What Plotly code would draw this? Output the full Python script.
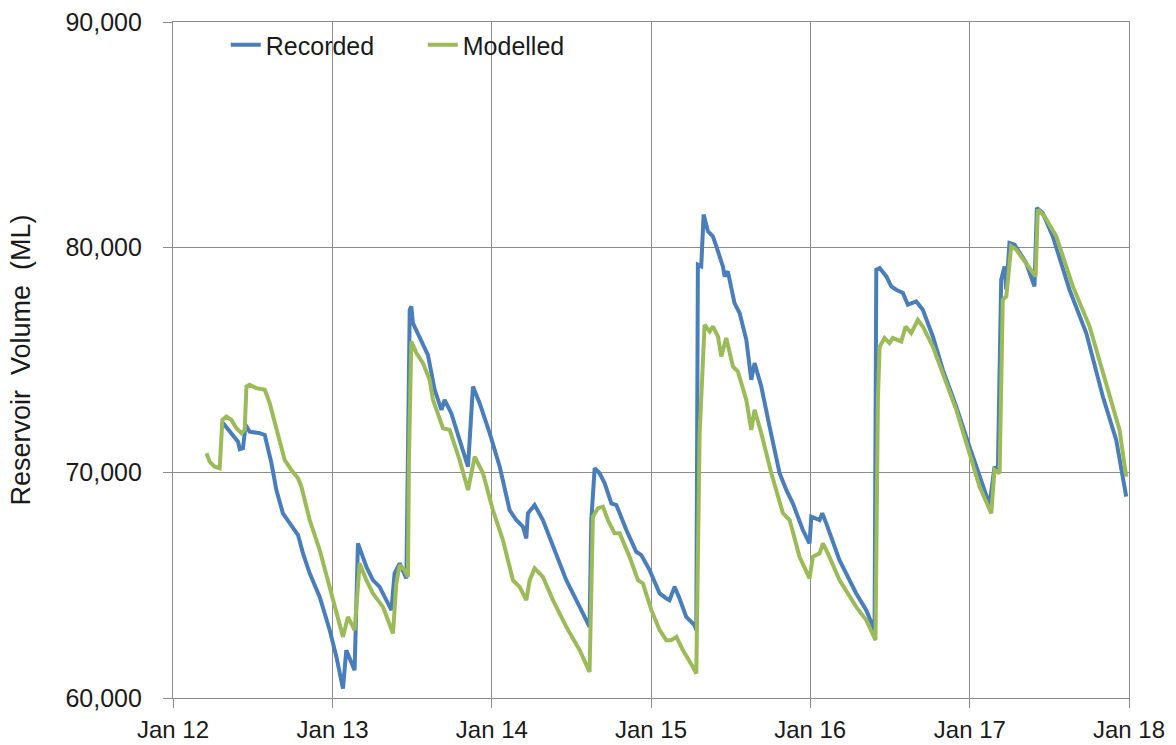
import pandas as pd
import plotly.graph_objects as go

# Recorded series: decimal-year positions and volumes (ML)
recorded_year = [
    2012.314, 2012.377, 2012.408, 2012.419, 2012.439, 2012.456, 2012.481, 2012.544, 2012.576,
    2012.618, 2012.649, 2012.690, 2012.732, 2012.785, 2012.816, 2012.858, 2012.921, 2012.984,
    2013.026, 2013.067, 2013.088, 2013.140, 2013.161, 2013.214, 2013.255, 2013.297, 2013.371,
    2013.391, 2013.423, 2013.465, 2013.486, 2013.496, 2013.506, 2013.548, 2013.600, 2013.643,
    2013.685, 2013.705, 2013.747, 2013.799, 2013.852, 2013.883, 2013.925, 2013.988, 2014.051,
    2014.113, 2014.155, 2014.197, 2014.218, 2014.228, 2014.270, 2014.322, 2014.385, 2014.469,
    2014.553, 2014.615, 2014.626, 2014.647, 2014.678, 2014.710, 2014.752, 2014.783, 2014.804,
    2014.846, 2014.908, 2014.940, 2014.992, 2015.055, 2015.097, 2015.117, 2015.149, 2015.180,
    2015.222, 2015.274, 2015.285, 2015.295, 2015.316, 2015.331, 2015.358, 2015.389, 2015.411,
    2015.452, 2015.463, 2015.483, 2015.525, 2015.557, 2015.599, 2015.630, 2015.651, 2015.693,
    2015.745, 2015.808, 2015.850, 2015.891, 2015.954, 2015.996, 2016.007, 2016.059, 2016.076,
    2016.101, 2016.184, 2016.289, 2016.352, 2016.404, 2016.415, 2016.436, 2016.478, 2016.509,
    2016.540, 2016.582, 2016.613, 2016.666, 2016.707, 2016.770, 2016.833, 2016.917, 2017.000,
    2017.063, 2017.126, 2017.157, 2017.178, 2017.199, 2017.220, 2017.231, 2017.251, 2017.283,
    2017.356, 2017.408, 2017.423, 2017.460, 2017.523, 2017.628, 2017.733, 2017.837, 2017.921,
    2017.984,
]
recorded_ml = [
    72200, 71675, 71378, 71040, 71084, 72120, 71822, 71751, 71675,
    70418, 69231, 68196, 67751, 67231, 66418, 65529, 64489, 63010,
    61823, 60419, 62121, 61232, 66863, 65823, 65231, 64934, 63898,
    65529, 65974, 65307, 77230, 77377, 76639, 76044, 75231, 73675,
    72786, 73231, 72640, 71453, 70267, 73822, 73084, 71751, 70267,
    68342, 67898, 67600, 67085, 68196, 68565, 67898, 66711, 65231,
    64045, 63156, 67898, 70196, 69973, 69529, 68640, 68565, 68196,
    67454, 66489, 66343, 65676, 64640, 64418, 64343, 64934, 64418,
    63601, 63232, 63010, 79230, 79155, 81452, 80710, 80488, 80043,
    79155, 78710, 78932, 77528, 77084, 75897, 74120, 74862, 73822,
    72044, 69973, 69231, 68640, 67454, 66863, 68045, 67898, 68196,
    67751, 66120, 64640, 63898, 63010, 79008, 79083, 78710, 78266,
    78119, 77973, 77453, 77599, 77230, 76044, 74564, 72933, 71155,
    69822, 68565, 70267, 70044, 78564, 79155, 78119, 80195, 80119,
    79306, 78266, 81750, 81528, 80488, 78119, 76195, 73377, 71453,
    68933,
]

# Modelled series: decimal-year positions and volumes (ML)
modelled_year = [
    2012.210, 2012.230, 2012.262, 2012.293, 2012.310, 2012.335, 2012.367, 2012.398, 2012.429,
    2012.450, 2012.461, 2012.481, 2012.523, 2012.576, 2012.607, 2012.649, 2012.701, 2012.743,
    2012.785, 2012.806, 2012.858, 2012.921, 2012.984, 2013.026, 2013.067, 2013.098, 2013.140,
    2013.172, 2013.214, 2013.255, 2013.318, 2013.381, 2013.402, 2013.423, 2013.454, 2013.475,
    2013.481, 2013.496, 2013.528, 2013.569, 2013.611, 2013.632, 2013.695, 2013.737, 2013.799,
    2013.852, 2013.894, 2013.946, 2014.008, 2014.071, 2014.134, 2014.176, 2014.218, 2014.239,
    2014.270, 2014.322, 2014.385, 2014.469, 2014.553, 2014.615, 2014.636, 2014.667, 2014.699,
    2014.730, 2014.772, 2014.804, 2014.866, 2014.919, 2014.950, 2015.003, 2015.055, 2015.097,
    2015.128, 2015.160, 2015.201, 2015.264, 2015.285, 2015.306, 2015.323, 2015.337, 2015.369,
    2015.389, 2015.421, 2015.442, 2015.473, 2015.515, 2015.546, 2015.599, 2015.630, 2015.651,
    2015.693, 2015.756, 2015.829, 2015.871, 2015.933, 2015.996, 2016.017, 2016.059, 2016.080,
    2016.111, 2016.184, 2016.289, 2016.352, 2016.410, 2016.425, 2016.436, 2016.467, 2016.498,
    2016.519, 2016.572, 2016.599, 2016.634, 2016.676, 2016.707, 2016.770, 2016.833, 2016.917,
    2017.000, 2017.063, 2017.137, 2017.157, 2017.189, 2017.209, 2017.231, 2017.262, 2017.293,
    2017.356, 2017.415, 2017.429, 2017.471, 2017.545, 2017.649, 2017.754, 2017.858, 2017.942,
    2017.984,
]
modelled_ml = [
    70862, 70489, 70267, 70196, 72342, 72489, 72342, 71973, 71751,
    71898, 73822, 73897, 73751, 73675, 73084, 71898, 70564, 70120,
    69751, 69378, 67898, 66565, 64934, 63752, 62712, 63601, 63010,
    65974, 65231, 64640, 64045, 62863, 65085, 65898, 65676, 65378,
    70564, 75822, 75306, 74862, 74120, 73231, 71973, 71898, 70564,
    69231, 70711, 69973, 68342, 67009, 65231, 64934, 64343, 65231,
    65752, 65378, 64343, 63156, 62119, 61155, 68045, 68418, 68489,
    67898, 67307, 67307, 66267, 65231, 65085, 63898, 63010, 62565,
    62565, 62712, 62119, 61377, 61085, 71751, 74266, 76564, 76266,
    76489, 76044, 75155, 75973, 74711, 74488, 73231, 71898, 72786,
    71751, 69973, 68196, 67898, 66267, 65307, 66267, 66418, 66863,
    66418, 65231, 64045, 63454, 62565, 73231, 75600, 75973, 75751,
    75973, 75822, 76488, 76195, 76786, 76488, 75600, 74417, 72786,
    70862, 69378, 68196, 70120, 69973, 77675, 77822, 80043, 79897,
    79306, 78710, 81674, 81377, 80488, 78266, 76488, 73973, 71898,
    69822,
]

x_ticks = ["2012-01-01", "2013-01-01", "2014-01-01", "2015-01-01",
           "2016-01-01", "2017-01-01", "2018-01-01"]
x_tick_labels = ["Jan 12", "Jan 13", "Jan 14", "Jan 15", "Jan 16", "Jan 17", "Jan 18"]
y_ticks = [60000, 70000, 80000, 90000]


def to_dates(years):
    base = pd.Timestamp("2012-01-01")
    return [base + pd.Timedelta(days=(y - 2012) * 365.25) for y in years]


FONT = "Liberation Sans, Arial, sans-serif"
GRID = "#8c8c8c"

fig = go.Figure()
fig.add_trace(go.Scatter(x=to_dates(recorded_year), y=recorded_ml, mode="lines",
                         name="Recorded", line=dict(color="#4a7ebb", width=4)))
fig.add_trace(go.Scatter(x=to_dates(modelled_year), y=modelled_ml, mode="lines",
                         name="Modelled", line=dict(color="#9bbb59", width=4)))

fig.update_layout(
    width=1176, height=745,
    margin=dict(l=173, r=47, t=22, b=47, autoexpand=False),
    paper_bgcolor="white", plot_bgcolor="white",
    font=dict(family=FONT, size=25, color="#1a1a1a"),
    showlegend=True,
    legend=dict(orientation="h", x=0.0552, y=1.0, xanchor="left", yanchor="top",
                bgcolor="rgba(0,0,0,0)", font=dict(size=25), traceorder="normal",
                entrywidth=152, itemwidth=30),
)
fig.update_xaxes(
    type="date", range=["2012-01-01", "2018-01-01"], automargin=False,
    tickmode="array", tickvals=x_ticks, ticktext=x_tick_labels,
    tickfont=dict(size=24),
    showgrid=True, gridcolor=GRID, gridwidth=1.3,
    showline=True, linecolor=GRID, linewidth=1.3, mirror=True,
    ticks="outside", ticklen=9, tickcolor=GRID, tickwidth=1.3,
    ticklabelstandoff=1, zeroline=False,
)
fig.update_yaxes(
    range=[60000, 90000], tickmode="array", tickvals=y_ticks, tickformat=",",
    automargin=False,
    showgrid=True, gridcolor=GRID, gridwidth=1.3,
    showline=True, linecolor=GRID, linewidth=1.3, mirror=True,
    ticks="outside", ticklen=9, tickcolor=GRID, tickwidth=1.3,
    ticklabelstandoff=16, zeroline=False,
    title=dict(text="Reservoir  Volume  (ML)", font=dict(size=27), standoff=26),
)

fig.write_html(
    "out.html",
    config={"displayModeBar": False},
    post_script="document.body.style.margin='0';document.body.style.overflow='hidden';",
)
